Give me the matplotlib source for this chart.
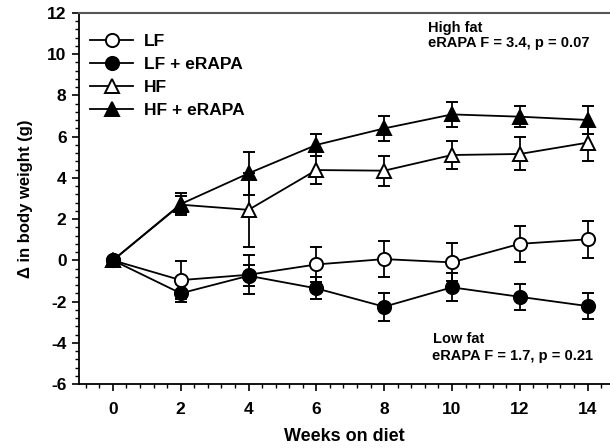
import matplotlib
matplotlib.use('Agg')
import matplotlib.pyplot as plt
from matplotlib.lines import Line2D
from matplotlib.ticker import MultipleLocator

plt.rcParams['font.family'] = ['Liberation Sans', 'DejaVu Sans']
plt.rcParams['font.weight'] = 'bold'
plt.rcParams['axes.unicode_minus'] = False

# Данные
weeks = [0, 2, 4, 6, 8, 10, 12, 14]
lf = [0, -0.96, -0.7, -0.2, 0.06, -0.1, 0.8, 1.02]
lf_se = [0, 0.93, 0.95, 0.85, 0.87, 0.92, 0.88, 0.9]
lf_rapa = [0, -1.6, -0.75, -1.36, -2.25, -1.31, -1.77, -2.22]
lf_rapa_se = [0, 0.43, 0.5, 0.53, 0.68, 0.68, 0.62, 0.63]
hf = [0, 2.7, 2.45, 4.38, 4.35, 5.11, 5.16, 5.71]
hf_se = [0, 0.42, 1.8, 0.67, 0.72, 0.7, 0.8, 0.9]
hf_rapa = [0, 2.73, 4.22, 5.6, 6.4, 7.08, 6.97, 6.81]
hf_rapa_se = [0, 0.55, 1.05, 0.52, 0.6, 0.6, 0.5, 0.7]

series = [
    ('LF', lf, lf_se, 'o', 'white'),
    ('LF + eRAPA', lf_rapa, lf_rapa_se, 'o', 'black'),
    ('HF', hf, hf_se, '^', 'white'),
    ('HF + eRAPA', hf_rapa, hf_rapa_se, '^', 'black'),
]

fig = plt.figure(figsize=(6.1, 4.48), dpi=100)
ax = fig.add_axes([79 / 610, 1 - 384 / 448, 1 - 79 / 610, 371 / 448])

handles = []
for label, m, s, mk, fc in series:
    ms = 9.5 if mk == 'o' else 10
    ax.errorbar(weeks, m, yerr=s, fmt=mk + '-', color='black', mfc=fc, mec='black',
                ms=ms, mew=1.4, lw=1.3, elinewidth=1.3,
                capsize=4, capthick=1.3)
    handles.append(Line2D([], [], marker=mk, color='black', mfc=fc, mec='black',
                          ms=ms, mew=1.4, lw=1.3, label=label))

ax.set_xlim(-1, 14.66)
ax.set_ylim(-6, 12)
ax.xaxis.set_major_locator(MultipleLocator(2))
ax.xaxis.set_minor_locator(MultipleLocator(0.4))
ax.yaxis.set_major_locator(MultipleLocator(2))
ax.yaxis.set_minor_locator(MultipleLocator(0.4))
ax.tick_params(which='major', direction='out', length=5, width=1.2, labelsize=12.5, pad=4)
ax.tick_params(which='minor', direction='out', length=3, width=1.0)
ax.tick_params(axis='x', which='major', pad=8)

ax.spines['right'].set_visible(False)
ax.spines['top'].set_color('#555555')
ax.spines['top'].set_linewidth(1.5)
ax.spines['left'].set_linewidth(1.3)
ax.spines['bottom'].set_linewidth(1.3)

ax.set_xlabel('Weeks on diet', fontsize=13, fontweight='bold', labelpad=8)
ax.set_ylabel('Δ in body weight (g)', fontsize=12, fontweight='bold', labelpad=10)

ax.legend(handles=handles, loc='upper left', bbox_to_anchor=(11 / 531, 0.943), frameon=False,
          fontsize=12.5, borderpad=0, borderaxespad=0, labelspacing=0.45,
          handlelength=2.5, handletextpad=0.6)

ax.text(9.29, 11.29, 'High fat', fontsize=10.5, fontweight='bold', va='center')
ax.text(9.29, 10.53, 'eRAPA F = 3.4, p = 0.07', fontsize=10.5, fontweight='bold', va='center')
ax.text(9.43, -3.83, 'Low fat', fontsize=10.5, fontweight='bold', va='center')
ax.text(9.4, -4.63, 'eRAPA F = 1.7, p = 0.21', fontsize=10.5, fontweight='bold', va='center')

plt.savefig('out.png', dpi=100)
